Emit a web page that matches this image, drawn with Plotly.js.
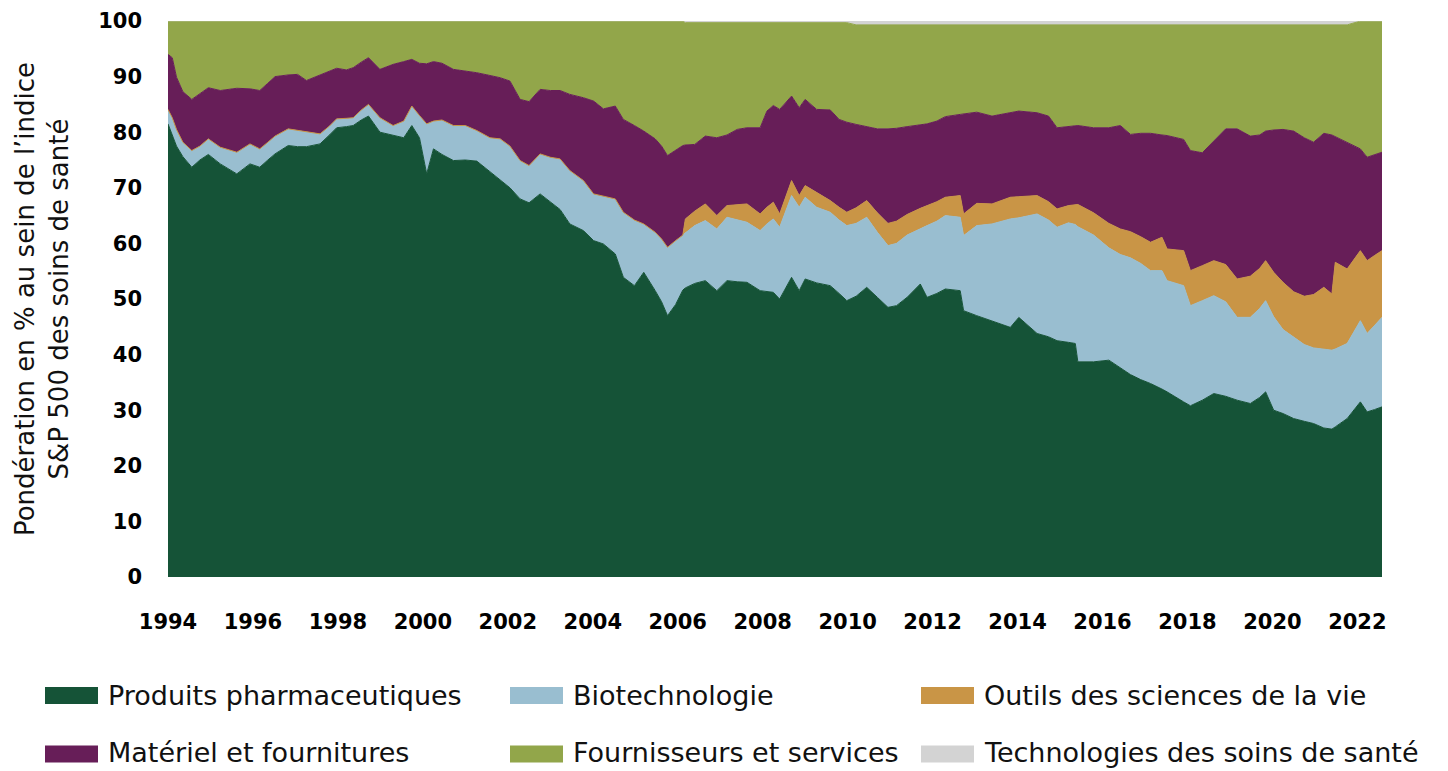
<!DOCTYPE html>
<html>
<head>
<meta charset="utf-8">
<script src="https://cdn.plot.ly/plotly-3.0.1.min.js"></script>
<style>
html,body{margin:0;padding:0;background:#fff;}
#chart{width:1448px;height:771px;}
</style>
</head>
<body>
<div id="chart"></div>
<script>
// Decimal years of the samples
const dates = [
1994.00,1994.10,1994.20,1994.35,1994.56,1994.75,1994.95,1995.23,1995.45,1995.62,
1995.93,1996.16,1996.35,1996.52,1996.83,1997.05,1997.26,1997.58,1997.80,1997.97,
1998.20,1998.36,1998.55,1998.72,1998.99,1999.30,1999.55,1999.74,1999.92,2000.09,
2000.25,2000.45,2000.72,2001.00,2001.27,2001.58,2001.82,2002.05,2002.29,2002.50,
2002.76,2003.00,2003.23,2003.46,2003.78,2004.02,2004.25,2004.53,2004.72,2004.98,
2005.20,2005.47,2005.62,2005.76,2005.95,2006.12,2006.18,2006.40,2006.65,2006.92,
2007.16,2007.40,2007.63,2007.94,2008.10,2008.25,2008.40,2008.68,2008.86,2009.00,
2009.27,2009.59,2009.80,2009.98,2010.20,2010.45,2010.70,2010.95,2011.15,2011.40,
2011.71,2011.87,2012.10,2012.30,2012.65,2012.73,2013.04,2013.40,2013.83,2014.03,
2014.46,2014.73,2014.93,2015.20,2015.36,2015.42,2015.79,2016.15,2016.42,2016.66,
2016.90,2017.13,2017.40,2017.52,2017.91,2018.07,2018.35,2018.62,2018.90,2019.17,
2019.48,2019.70,2019.84,2020.03,2020.25,2020.50,2020.75,2020.97,2021.21,2021.40,
2021.48,2021.76,2022.07,2022.23,2022.40,2022.58
];

// Weights (%) in the S&P 500 Health Care index
const pharma = [
81.5,79.5,77.5,75.6,73.7,75.0,76.0,74.3,73.3,72.5,
74.3,73.7,75.0,76.1,77.6,77.4,77.4,77.9,79.5,80.8,
81.0,81.2,82.2,82.9,80.0,79.4,79.0,81.2,79.0,72.5,
77.0,76.0,74.9,75.0,74.8,72.9,71.5,70.0,68.0,67.3,
68.9,67.5,66.1,63.5,62.3,60.5,59.9,58.1,53.9,52.4,
54.8,51.5,49.5,47.0,49.0,51.6,52.0,52.8,53.3,51.5,
53.3,53.1,53.0,51.5,51.4,51.2,50.0,53.9,51.5,53.6,
52.9,52.4,51.0,49.7,50.5,52.1,50.3,48.5,48.8,50.3,
52.7,50.3,51.0,51.8,51.5,47.9,47.0,46.0,44.9,46.7,
43.8,43.2,42.5,42.2,42.0,38.7,38.7,39.0,37.6,36.4,
35.5,34.8,33.8,33.3,31.5,30.8,31.8,33.0,32.5,31.8,
31.2,32.3,33.3,30.0,29.4,28.5,28.0,27.6,26.8,26.6,
27.0,28.5,31.5,29.7,30.1,30.6
];
const biotech = [
2.6,3.1,3.0,2.6,3.0,2.5,2.8,3.0,3.5,3.9,
3.6,3.3,3.2,3.2,3.0,2.9,2.6,1.8,1.6,1.6,
1.5,1.4,1.8,2.1,2.6,1.8,3.0,3.5,4.0,9.0,
5.0,6.2,6.3,6.2,5.5,6.1,7.3,7.5,6.9,6.7,
7.2,8.0,9.1,9.6,9.0,8.4,8.6,9.9,11.7,11.8,
8.7,10.5,11.3,12.3,11.5,9.9,10.0,10.4,10.8,11.1,
11.4,11.1,10.8,10.8,12.1,13.2,12.9,14.7,15.0,14.7,
13.6,13.2,13.2,13.5,13.1,12.6,11.7,11.1,11.2,11.2,
10.0,12.9,13.0,13.2,13.2,13.5,16.2,17.5,19.5,17.9,
21.5,21.0,20.4,21.5,21.4,24.3,22.8,20.2,20.4,21.0,
20.9,20.3,21.3,20.0,20.9,18.0,17.9,17.6,17.0,14.9,
15.5,16.0,16.4,16.8,15.1,14.6,13.8,13.6,14.2,14.2,
14.0,13.5,14.6,14.1,15.1,16.1
];
const tools = [
0,0,0,0,0,0,0,0,0,0,
0,0,0,0,0,0,0,0,0,0,
0,0,0,0,0,0,0,0,0,0,
0,0,0,0,0,0,0,0,0,0,
0,0,0,0,0,0,0,0,0,0,
0,0,0,0,0,0,2.4,2.6,3.0,2.4,
2.1,2.8,3.3,3.0,3.0,3.0,2.4,2.7,2.1,2.1,
2.7,2.1,2.3,2.4,2.8,3.0,3.5,4.0,4.0,3.7,
3.6,3.6,3.5,3.3,3.9,3.9,4.0,3.6,3.9,3.8,
3.3,3.3,3.3,3.1,3.6,4.0,4.0,4.4,4.6,4.7,
4.8,5.1,6.0,5.7,6.3,6.3,6.3,6.3,6.7,6.9,
7.4,7.2,7.2,8.0,8.5,8.2,8.7,9.6,11.1,10.1,
15.6,13.4,12.6,13.1,12.6,12.0
];
const equipment = [
9.9,10.8,9.4,9.1,9.2,9.5,9.2,10.2,10.9,11.5,
9.9,10.5,10.6,10.7,9.7,10.1,9.3,10.6,9.9,9.1,
8.7,9.0,8.6,8.4,8.7,11.0,10.7,8.4,9.4,10.8,
10.7,10.2,10.1,9.8,10.4,11.2,11.0,11.7,11.0,11.5,
11.6,12.0,12.3,13.7,14.9,16.7,15.7,16.7,16.7,17.0,
16.7,16.8,16.7,16.5,16.3,16.1,13.3,12.0,12.2,14.0,
12.7,13.5,13.7,15.5,17.3,17.4,18.8,15.2,15.8,15.5,
14.9,16.3,15.8,16.2,15.0,13.3,15.1,17.0,16.7,15.8,
15.0,14.7,14.5,14.5,14.6,18.0,16.4,15.8,15.3,15.4,
14.9,15.4,14.6,14.2,14.1,14.2,15.3,17.2,18.6,17.5,
18.6,19.6,18.4,20.4,20.0,21.6,20.3,21.6,24.4,27.0,
25.2,24.0,23.3,25.6,27.5,28.9,28.5,27.4,27.7,28.6,
22.6,22.8,18.3,18.6,18.2,17.7
];
const providers = [
6.0,6.6,10.1,12.7,14.1,13.0,12.0,12.5,12.3,12.1,
12.2,12.5,11.2,10.0,9.7,9.6,10.7,9.7,9.0,8.5,
8.8,8.4,7.4,6.6,8.7,7.8,7.3,6.9,7.6,7.7,
7.3,7.6,8.7,9.0,9.3,9.8,10.2,10.8,14.1,14.5,
12.3,12.5,12.5,13.2,13.8,14.4,15.8,15.3,17.7,18.8,
19.8,21.2,22.5,24.2,23.2,22.4,22.0,21.9,20.4,20.7,
20.2,19.2,18.9,18.9,15.9,14.9,15.6,13.2,15.3,13.8,
15.6,15.7,17.4,17.9,17.9,18.3,18.7,18.7,18.6,18.3,
18.0,17.8,17.3,16.5,16.1,16.0,15.7,16.4,15.7,15.5,
15.8,16.4,18.5,18.3,18.2,18.1,18.5,18.5,18.1,19.7,
19.5,19.5,19.8,19.9,20.6,22.6,23.0,20.8,18.7,18.7,
20.0,19.8,19.1,18.9,18.8,19.1,20.3,21.1,19.5,19.8,
20.1,21.1,23.0,24.5,24.0,23.6
];
const healthTech = [
0,0,0,0,0,0,0,0,0,0,
0,0,0,0,0,0,0,0,0,0,
0,0,0,0,0,0,0,0,0,0,
0,0,0,0,0,0,0,0,0,0,
0,0,0,0,0,0,0,0,0,0,
0,0,0,0,0,0,0.3,0.3,0.3,0.3,
0.3,0.3,0.3,0.3,0.3,0.3,0.3,0.3,0.3,0.3,
0.3,0.3,0.3,0.3,0.7,0.7,0.7,0.7,0.7,0.7,
0.7,0.7,0.7,0.7,0.7,0.7,0.7,0.7,0.7,0.7,
0.7,0.7,0.7,0.7,0.7,0.7,0.7,0.7,0.7,0.7,
0.7,0.7,0.7,0.7,0.7,0.7,0.7,0.7,0.7,0.7,
0.7,0.7,0.7,0.7,0.7,0.7,0.7,0.7,0.7,0.7,
0.7,0.7,0,0,0,0
];

const seriesNames = [
  'Produits pharmaceutiques',
  'Biotechnologie',
  'Outils des sciences de la vie',
  'Matériel et fournitures',
  'Fournisseurs et services',
  'Technologies des soins de santé'
];
const tickYears = [1994,1996,1998,2000,2002,2004,2006,2008,2010,2012,2014,2016,2018,2020,2022];
const tickLabels = ['1994','1996','1998','2000','2002','2004','2006','2008','2010','2012','2014','2016','2018','2020','2022'];
const yTicks = [0,10,20,30,40,50,60,70,80,90,100];

const seriesValues = [pharma, biotech, tools, equipment, providers, healthTech];
const colors = ['#155337','#99BED0','#C99546','#671E58','#92A64A','#D3D3D3'];

const traces = seriesValues.map((vals, i) => ({
  type: 'scatter',
  mode: 'lines',
  x: dates,
  y: vals,
  name: seriesNames[i],
  stackgroup: 'one',
  line: { width: i === 5 ? 0.5 : 1, color: colors[i] },
  fillcolor: colors[i],
  showlegend: false,
  hovertemplate: '%{y:.1f} %<extra>' + seriesNames[i] + '</extra>'
}));

// Plot-area geometry (px) used to place the custom legend
const M = { l: 168, r: 66, t: 21, b: 194 };
const W = 1448 - M.l - M.r, H = 771 - M.t - M.b;
const pxX = x => (x - M.l) / W;
const pxY = y => (M.t + H - y) / H;
const legendCols = [45, 510, 921];
const legendRows = [695.5, 752];

const shapes = [], annotations = [];
seriesNames.forEach((name, i) => {
  const cx = legendCols[i % 3], cy = legendRows[Math.floor(i / 3)];
  const sy = i < 3 ? cy : 754;
  shapes.push({
    type: 'rect', xref: 'paper', yref: 'paper',
    x0: pxX(cx), x1: pxX(cx + 53), y0: pxY(sy + 8.5), y1: pxY(sy - 8.5),
    fillcolor: colors[i], line: { width: 0 }
  });
  annotations.push({
    xref: 'paper', yref: 'paper', x: pxX(cx + 61), y: pxY(cy),
    xanchor: 'left', yanchor: 'middle', showarrow: false,
    text: name, font: { family: '"DejaVu Sans", sans-serif', size: 27, color: '#111' }
  });
});

const layout = {
  width: 1448, height: 771,
  margin: M,
  paper_bgcolor: '#ffffff', plot_bgcolor: '#ffffff',
  font: { family: '"DejaVu Sans", sans-serif', color: '#000' },
  showlegend: false,
  hovermode: 'x unified',
  xaxis: {
    range: [1994, 2022.58],
    tickmode: 'array', tickvals: tickYears, ticktext: tickLabels,
    showgrid: false, zeroline: false, showline: false, ticks: '',
    tickfont: { size: 21, weight: 700, color: '#000' },
    ticklabelstandoff: 30
  },
  yaxis: {
    range: [0, 100],
    tickmode: 'array', tickvals: yTicks,
    showgrid: false, zeroline: false, showline: false, ticks: '',
    tickfont: { size: 21, weight: 700, color: '#000' },
    ticklabelstandoff: 25,
    title: {
      text: 'Pondération en % au sein de l’indice<br>S&amp;P 500 des soins de santé',
      font: { size: 26, color: '#111' },
      standoff: 22
    }
  },
  shapes: shapes,
  annotations: annotations
};

Plotly.newPlot('chart', traces, layout, { displayModeBar: false, responsive: false });
</script>
</body>
</html>
